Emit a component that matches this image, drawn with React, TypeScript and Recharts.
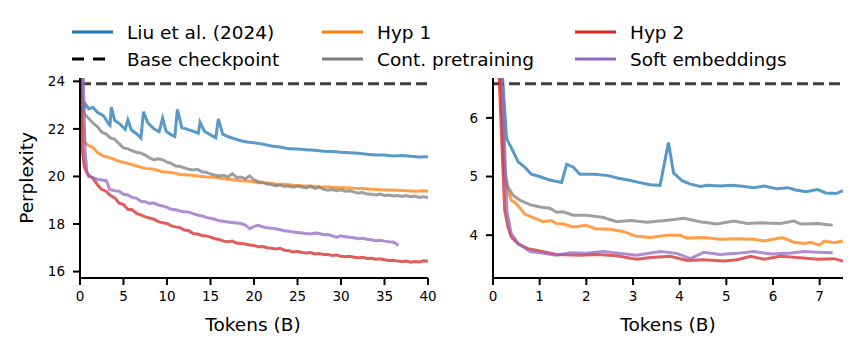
import React from 'react';
import { LineChart, Line, XAxis, YAxis } from 'recharts';

type Pt = [number, number];

// ---------- Left panel (40B tokens) ----------
const leftXTicks = [0, 5, 10, 15, 20, 25, 30, 35, 40];
const leftYTicks = [16, 18, 20, 22, 24];
const baseLeft: Pt[] = [[0, 23.9], [40, 23.9]];

const liuLeft: Pt[] = [
  [0.1, 26], [0.2, 24.2], [0.35, 22.7], [0.6, 23.05], [1.0, 22.85], [1.5, 22.9], [2.0, 22.7], [2.7, 22.55],
  [3.3, 22.2], [3.45, 22.15], [3.6, 22.92], [4.0, 22.35], [4.6, 22.2], [5.2, 21.98], [5.5, 22.38], [5.9, 21.95],
  [6.5, 21.8], [7.0, 21.62], [7.3, 22.72], [7.8, 22.25], [8.5, 22.0], [9.1, 21.88], [9.5, 22.45], [9.9, 21.9],
  [10.5, 21.75], [10.9, 21.68], [11.2, 22.82], [11.7, 22.05], [12.2, 22.0], [13.0, 21.9], [13.6, 21.82], [13.8, 22.28],
  [14.3, 21.9], [15.0, 21.75], [15.6, 21.62], [15.9, 22.42], [16.4, 21.78], [17.0, 21.68], [17.6, 21.6], [18.5, 21.5],
  [19.2, 21.45], [20, 21.42], [21, 21.36], [22, 21.28], [23, 21.24], [24, 21.16], [25, 21.15], [26, 21.12],
  [27, 21.1], [28, 21.06], [29, 21.05], [30, 21.02], [31, 21.0], [32, 20.98], [33, 20.93], [34, 20.9],
  [35, 20.9], [36, 20.86], [37, 20.88], [38, 20.85], [39, 20.82], [40, 20.83],
];

const hyp1Left: Pt[] = [
  [0.1, 26], [0.3, 22.5], [0.5, 21.45], [1, 21.3], [1.5, 21.22], [2, 21.0], [2.7, 20.86], [3.5, 20.78],
  [4.5, 20.64], [5.5, 20.55], [6.5, 20.44], [7.5, 20.34], [8.5, 20.3], [9.5, 20.2], [10.5, 20.17], [11.5, 20.08],
  [12.5, 20.06], [13.5, 20.02], [14.5, 19.98], [15.5, 19.97], [16.5, 19.9], [17.5, 19.86], [18.5, 19.82], [19.5, 19.8],
  [20.5, 19.74], [21.5, 19.73], [22.5, 19.68], [23.5, 19.67], [24.5, 19.63], [25.5, 19.61], [26.5, 19.6], [27.5, 19.57],
  [28.5, 19.56], [29.5, 19.54], [30.5, 19.52], [31.5, 19.5], [32.5, 19.49], [33.5, 19.46], [34.5, 19.44], [35.5, 19.43],
  [36.5, 19.42], [37.5, 19.4], [38.5, 19.38], [39.5, 19.4], [40, 19.38],
];

const contLeft: Pt[] = [
  [0.1, 26], [0.25, 23.6], [0.4, 22.7], [0.5, 22.62], [1.0, 22.45], [1.5, 22.24], [2.0, 22.1], [2.5, 21.86],
  [3.0, 21.78], [3.5, 21.62], [4.0, 21.56], [4.5, 21.38], [5.0, 21.2], [5.5, 21.16], [6.0, 21.08], [6.5, 21.02],
  [7.0, 20.98], [7.5, 20.9], [8.0, 20.78], [8.5, 20.7], [9.0, 20.74], [9.5, 20.7], [10.0, 20.6], [10.5, 20.55],
  [11.0, 20.44], [11.5, 20.42], [12.0, 20.36], [12.5, 20.3], [13.0, 20.27], [13.5, 20.3], [14.0, 20.2], [14.5, 20.18],
  [15.0, 20.1], [15.5, 20.06], [16.0, 20.02], [16.5, 20.05], [17.0, 19.98], [17.5, 20.12], [18.0, 19.96], [18.5, 19.98],
  [19.0, 19.9], [19.5, 20.02], [20.0, 19.86], [20.5, 19.78], [21.0, 19.75], [21.5, 19.68], [22.0, 19.66], [22.5, 19.6],
  [23.0, 19.64], [23.5, 19.58], [24.0, 19.6], [24.5, 19.55], [25.0, 19.6], [25.5, 19.56], [26.0, 19.52], [26.5, 19.58],
  [27.0, 19.5], [27.5, 19.55], [28.0, 19.46], [28.5, 19.42], [29.0, 19.45], [29.5, 19.4], [30.0, 19.44], [30.5, 19.38],
  [31.0, 19.4], [31.5, 19.34], [32.0, 19.3], [32.5, 19.32], [33.0, 19.26], [33.5, 19.25], [34.0, 19.22], [34.5, 19.26],
  [35.0, 19.2], [35.5, 19.22], [36.0, 19.18], [36.5, 19.2], [37.0, 19.16], [37.5, 19.2], [38.0, 19.15], [38.5, 19.18],
  [39.0, 19.12], [39.5, 19.15], [40.0, 19.1],
];

const hyp2Left: Pt[] = [
  [0.05, 26], [0.12, 23.0], [0.2, 21.8], [0.3, 21.0], [0.5, 20.4], [0.8, 20.15], [1.0, 20.05], [1.5, 19.92],
  [2.0, 19.65], [2.5, 19.45], [3.0, 19.38], [3.5, 19.2], [4.0, 19.1], [4.5, 18.88], [5.0, 18.82], [5.5, 18.62],
  [6.0, 18.6], [6.5, 18.45], [7.0, 18.38], [7.5, 18.3], [8.0, 18.25], [8.5, 18.2], [9.0, 18.1], [9.5, 18.05],
  [10.0, 18.02], [10.5, 17.92], [11.0, 17.88], [11.5, 17.85], [12.0, 17.75], [12.5, 17.72], [13.0, 17.6], [13.5, 17.58],
  [14.0, 17.52], [14.5, 17.5], [15.0, 17.45], [15.5, 17.38], [16.0, 17.35], [16.5, 17.28], [17.0, 17.25], [17.5, 17.28],
  [18.0, 17.2], [18.5, 17.18], [19.0, 17.16], [19.5, 17.12], [20.0, 17.1], [20.5, 17.04], [21.0, 17.05], [21.5, 17.0],
  [22.0, 16.98], [22.5, 16.95], [23.0, 16.98], [23.5, 16.9], [24.0, 16.88], [24.5, 16.82], [25.0, 16.85], [25.5, 16.8],
  [26.0, 16.78], [26.5, 16.8], [27.0, 16.74], [27.5, 16.76], [28.0, 16.72], [28.5, 16.72], [29.0, 16.68], [29.5, 16.7],
  [30.0, 16.64], [30.5, 16.62], [31.0, 16.64], [31.5, 16.6], [32.0, 16.58], [32.5, 16.6], [33.0, 16.55], [33.5, 16.56],
  [34.0, 16.52], [34.5, 16.54], [35.0, 16.5], [35.5, 16.47], [36.0, 16.48], [36.5, 16.44], [37.0, 16.42], [37.5, 16.44],
  [38.0, 16.39], [38.5, 16.42], [39.0, 16.4], [39.5, 16.45], [40.0, 16.43],
];

const softLeft: Pt[] = [
  [0.3, 26], [0.45, 23.0], [0.6, 21.0], [0.8, 20.2], [1.0, 20.0], [1.5, 19.95], [2.0, 19.88], [2.5, 19.85],
  [3.0, 19.82], [3.1, 19.78], [3.4, 19.45], [4.0, 19.4], [4.5, 19.38], [5.0, 19.25], [5.5, 19.22], [6.0, 19.12],
  [6.5, 19.08], [7.0, 18.96], [7.5, 18.94], [8.0, 18.86], [8.5, 18.88], [9.0, 18.8], [9.5, 18.76], [10.0, 18.7],
  [10.5, 18.62], [11.0, 18.6], [11.5, 18.55], [12.0, 18.52], [12.5, 18.5], [13.0, 18.44], [13.5, 18.38], [14.0, 18.34],
  [14.5, 18.28], [15.0, 18.24], [15.5, 18.2], [16.0, 18.14], [16.5, 18.12], [17.0, 18.08], [17.5, 18.06], [18.0, 18.04],
  [18.5, 18.02], [19.0, 17.96], [19.5, 17.8], [20.0, 17.9], [20.5, 17.95], [21.0, 17.88], [21.5, 17.84], [22.0, 17.82],
  [22.5, 17.8], [23.0, 17.76], [23.5, 17.72], [24.0, 17.7], [24.5, 17.66], [25.0, 17.64], [25.5, 17.62], [26.0, 17.6],
  [26.5, 17.58], [27.0, 17.62], [27.5, 17.6], [28.0, 17.55], [28.5, 17.56], [29.0, 17.5], [29.5, 17.45], [30.0, 17.5],
  [30.5, 17.46], [31.0, 17.44], [31.5, 17.42], [32.0, 17.38], [32.5, 17.4], [33.0, 17.36], [33.5, 17.34], [34.0, 17.3],
  [34.5, 17.32], [35.0, 17.28], [35.5, 17.25], [36.0, 17.24], [36.3, 17.18], [36.6, 17.1],
];

// ---------- Right panel (7.5B tokens) ----------
const rightXTicks = [0, 1, 2, 3, 4, 5, 6, 7];
const rightYTicks = [4, 5, 6];
const baseRight: Pt[] = [[0, 6.58], [7.5, 6.58]];

const liuRight: Pt[] = [
  [0.18, 7.0], [0.29, 5.65], [0.4, 5.48], [0.54, 5.25], [0.68, 5.16], [0.82, 5.04], [1.0, 5.0], [1.22, 4.94],
  [1.47, 4.9], [1.58, 5.21], [1.72, 5.16], [1.86, 5.04], [2.15, 5.04], [2.44, 5.02], [2.69, 4.97], [2.9, 4.94],
  [3.12, 4.9], [3.37, 4.86], [3.58, 4.85], [3.76, 5.58], [3.87, 5.06], [4.05, 4.93], [4.23, 4.87], [4.45, 4.83],
  [4.59, 4.85], [4.87, 4.84], [5.09, 4.85], [5.3, 4.84], [5.59, 4.81], [5.81, 4.84], [6.09, 4.79], [6.31, 4.81],
  [6.49, 4.77], [6.7, 4.74], [6.95, 4.78], [7.13, 4.72], [7.35, 4.71], [7.5, 4.76],
];

const hyp1Right: Pt[] = [
  [0.15, 7.0], [0.25, 5.0], [0.32, 4.77], [0.39, 4.6], [0.5, 4.54], [0.68, 4.36], [0.86, 4.3], [1.08, 4.23],
  [1.25, 4.25], [1.36, 4.2], [1.5, 4.19], [1.72, 4.14], [2.0, 4.17], [2.19, 4.11], [2.51, 4.1], [2.8, 4.06],
  [3.08, 3.98], [3.37, 3.96], [3.73, 4.0], [4.01, 4.0], [4.16, 3.95], [4.52, 3.96], [4.87, 3.93], [5.23, 3.94],
  [5.59, 3.93], [5.81, 3.9], [6.2, 3.96], [6.45, 3.88], [6.67, 3.86], [6.81, 3.88], [6.99, 3.83], [7.1, 3.9],
  [7.31, 3.87], [7.5, 3.9],
];

const contRight: Pt[] = [
  [0.15, 7.0], [0.25, 5.1], [0.32, 4.82], [0.43, 4.68], [0.57, 4.6], [0.79, 4.52], [1.0, 4.48], [1.22, 4.46],
  [1.36, 4.39], [1.5, 4.4], [1.72, 4.34], [2.0, 4.34], [2.37, 4.3], [2.65, 4.23], [2.94, 4.25], [3.3, 4.22],
  [3.8, 4.26], [4.09, 4.29], [4.44, 4.23], [4.8, 4.19], [5.16, 4.24], [5.45, 4.2], [5.74, 4.21], [6.16, 4.2],
  [6.45, 4.24], [6.6, 4.19], [6.95, 4.2], [7.28, 4.17],
];

const hyp2Right: Pt[] = [
  [0.12, 6.9], [0.25, 4.43], [0.32, 4.14], [0.39, 3.97], [0.54, 3.85], [0.75, 3.77], [1.0, 3.73], [1.36, 3.67],
  [1.86, 3.66], [2.22, 3.67], [2.65, 3.65], [3.08, 3.59], [3.37, 3.62], [3.8, 3.64], [4.16, 3.57], [4.52, 3.58],
  [4.95, 3.56], [5.23, 3.58], [5.52, 3.64], [5.81, 3.59], [6.16, 3.64], [6.52, 3.62], [6.95, 3.59], [7.31, 3.6],
  [7.5, 3.56],
];

const softRight: Pt[] = [
  [0.18, 7.0], [0.3, 4.4], [0.39, 4.03], [0.54, 3.86], [0.79, 3.72], [1.0, 3.7], [1.36, 3.66], [1.65, 3.7],
  [2.0, 3.69], [2.37, 3.72], [2.72, 3.69], [3.08, 3.66], [3.58, 3.72], [3.94, 3.69], [4.23, 3.6], [4.52, 3.71],
  [4.87, 3.67], [5.23, 3.69], [5.59, 3.72], [5.95, 3.68], [6.31, 3.69], [6.67, 3.72], [6.95, 3.71], [7.28, 3.7],
];

const seriesNames = ['Liu et al. (2024)', 'Base checkpoint', 'Hyp 1', 'Cont. pretraining', 'Hyp 2', 'Soft embeddings'];
const seriesColors = ['#1f77b4', '#000000', '#ff7f0e', '#7f7f7f', '#d62728', '#9467bd'];

const FONT = '"DejaVu Sans", Verdana, sans-serif';
const toObj = (a: Pt[]) => a.map(([x, y]) => ({ x, y }));

type PanelProps = {
  left: number;
  width: number;
  yWidth: number;
  marginRight: number;
  xDomain: [number, number];
  xTicks: number[];
  yDomain: [number, number];
  yTicks: number[];
  data: Pt[][]; // in seriesNames order
};

function Panel(p: PanelProps) {
  const axisLine = { stroke: '#000', strokeWidth: 2 };
  const tick = { fontSize: 13.5, fill: '#000' };
  return (
    <div style={{ position: 'absolute', left: p.left, top: 0 }}>
      <LineChart
        width={p.width}
        height={351}
        margin={{ top: 78, right: p.marginRight, bottom: 0, left: 0 }}
        style={{ fontFamily: FONT }}
      >
        <XAxis
          type="number"
          dataKey="x"
          domain={p.xDomain}
          ticks={p.xTicks}
          interval={0}
          allowDataOverflow
          height={73}
          axisLine={axisLine}
          tickLine={axisLine}
          tickSize={7}
          tickMargin={6}
          tick={tick}
        />
        <YAxis
          type="number"
          dataKey="y"
          domain={p.yDomain}
          ticks={p.yTicks}
          interval={0}
          allowDataOverflow
          width={p.yWidth}
          axisLine={axisLine}
          tickLine={axisLine}
          tickSize={7}
          tickMargin={8}
          tick={tick}
        />
        {p.data.map((d, i) => (
          <Line
            key={seriesNames[i]}
            data={toObj(d)}
            dataKey="y"
            name={seriesNames[i]}
            type="linear"
            stroke={seriesColors[i]}
            strokeOpacity={0.75}
            strokeWidth={3}
            strokeDasharray={i === 1 ? '11 5' : undefined}
            dot={false}
            activeDot={false}
            isAnimationActive={false}
          />
        ))}
      </LineChart>
    </div>
  );
}

const legendCols = [72, 322, 575];
const legendRows = [32, 59];

export default function App() {
  return (
    <div style={{ position: 'absolute', left: 0, top: 0, width: 859, height: 351, background: '#fff', fontFamily: FONT }}>
      <Panel
        left={0}
        width={440}
        yWidth={80}
        marginRight={12}
        xDomain={[0, 40]}
        xTicks={leftXTicks}
        yDomain={[15.73, 24.14]}
        yTicks={leftYTicks}
        data={[liuLeft, baseLeft, hyp1Left, contLeft, hyp2Left, softLeft]}
      />
      <Panel
        left={440}
        width={419}
        yWidth={53}
        marginRight={16}
        xDomain={[0, 7.5]}
        xTicks={rightXTicks}
        yDomain={[3.27, 6.68]}
        yTicks={rightYTicks}
        data={[liuRight, baseRight, hyp1Right, contRight, hyp2Right, softRight]}
      />
      <svg
        width={859}
        height={351}
        style={{ position: 'absolute', left: 0, top: 0, pointerEvents: 'none', fontFamily: FONT }}
      >
        {seriesNames.map((name, i) => {
          const col = Math.floor(i / 2);
          const row = i % 2;
          const x = legendCols[col];
          const y = legendRows[row];
          return (
            <g key={name}>
              <line
                x1={x}
                x2={x + 41}
                y1={y}
                y2={y}
                stroke={seriesColors[i]}
                strokeWidth={3}
                strokeDasharray={i === 1 ? '12 9' : undefined}
              />
              <text x={x + 55} y={y} dominantBaseline="central" fontSize={18.5} fill="#000">
                {name}
              </text>
            </g>
          );
        })}
        <text x={253} y={324} textAnchor="middle" dominantBaseline="central" fontSize={18.5} fill="#000">
          Tokens (B)
        </text>
        <text x={668} y={324} textAnchor="middle" dominantBaseline="central" fontSize={18.5} fill="#000">
          Tokens (B)
        </text>
        <text
          transform="translate(26,178) rotate(-90)"
          textAnchor="middle"
          dominantBaseline="central"
          fontSize={18.5}
          fill="#000"
        >
          Perplexity
        </text>
      </svg>
    </div>
  );
}
